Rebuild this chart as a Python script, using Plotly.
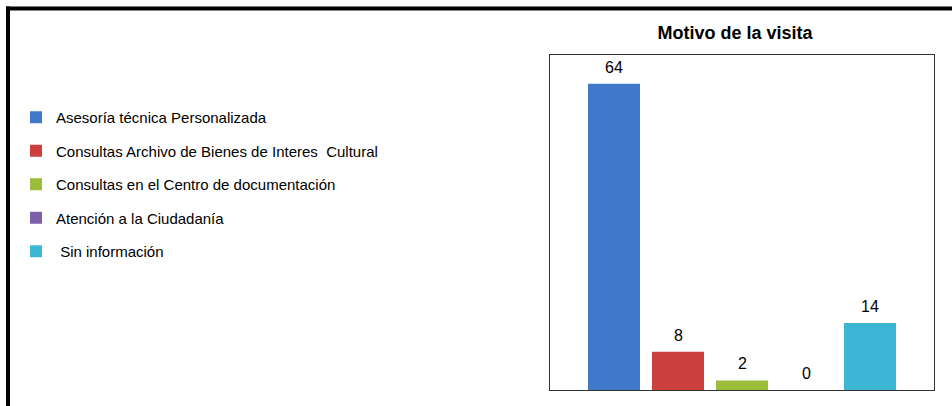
import plotly.graph_objects as go

categories = ["Asesoría técnica Personalizada",
              "Consultas Archivo de Bienes de Interes  Cultural",
              "Consultas en el Centro de documentación",
              "Atención a la Ciudadanía",
              " Sin información"]
values = [64, 8, 2, 0, 14]
colors = ["#4079C9", "#CB3F3C", "#9CBD3A", "#7E5FA8", "#3DB5D5"]
title = "Motivo de la visita"

W, H = 952, 406
L, R, T, B = 550, 18, 55, 16
pw, ph = W - L - R, H - T - B

def px_x(px):
    return (px - L) / pw

def px_y(py):
    return (H - B - py) / ph

fig = go.Figure()
for i, (cat, v, c) in enumerate(zip(categories, values, colors)):
    fig.add_trace(go.Bar(
        x=[i], y=[v], name=cat, width=0.8125,
        marker=dict(color=c, line=dict(width=0)),
        legendgroup=str(i), showlegend=True,
    ))
    fig.add_annotation(x=i, y=v, text=str(v), showarrow=False,
                       yanchor="bottom", yshift=6,
                       font=dict(family="Liberation Sans", size=16, color="#000"))

font_fam = "Liberation Sans, Arial, sans-serif"
fig.update_layout(
    width=W, height=H,
    margin=dict(l=L, r=R, t=T, b=B, autoexpand=False),
    paper_bgcolor="white", plot_bgcolor="white",
    barmode="overlay",
    font=dict(family=font_fam, size=15, color="#000"),
    title=dict(text="<b>" + title + "</b>", x=735 / W, xanchor="center",
               y=1 - 33 / H, yanchor="middle",
               font=dict(family=font_fam, size=18, color="#000")),
    xaxis=dict(range=[-1, 5], showticklabels=False, ticks="", showgrid=False,
               zeroline=False, showline=True, mirror=True,
               linecolor="#333333", linewidth=1, fixedrange=True),
    yaxis=dict(range=[0, 70], showticklabels=False, ticks="", showgrid=False,
               zeroline=False, showline=True, mirror=True,
               linecolor="#333333", linewidth=1, fixedrange=True),
    legend=dict(x=px_x(16), xanchor="left", y=px_y(101), yanchor="top",
                tracegroupgap=11, itemwidth=30, traceorder="grouped",
                font=dict(family=font_fam, size=15, color="#000"),
                bgcolor="rgba(0,0,0,0)"),
    showlegend=True,
    shapes=[
        dict(type="line", xref="paper", yref="paper",
             x0=px_x(6), x1=px_x(960), y0=px_y(8.5), y1=px_y(8.5),
             line=dict(color="#000", width=4)),
        dict(type="line", xref="paper", yref="paper",
             x0=px_x(8), x1=px_x(8), y0=px_y(6.5), y1=px_y(420),
             line=dict(color="#000", width=4)),
    ],
)

fig.write_html("out.html")
